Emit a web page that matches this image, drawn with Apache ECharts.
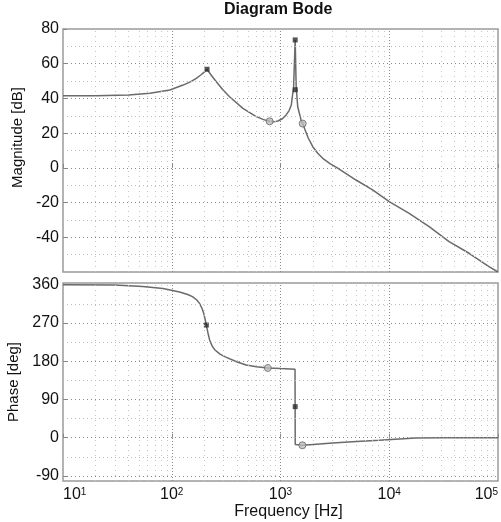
<!DOCTYPE html>
<html>
<head>
<meta charset="utf-8">
<title>Diagram Bode</title>
<script src="https://cdn.jsdelivr.net/npm/echarts@6/dist/echarts.min.js"></script>
<style>
  html, body { margin: 0; padding: 0; background: #fff; }
  #chart { width: 501px; height: 522px; }
</style>
</head>
<body>
<div id="chart"></div>
<script>
// magnitude curve (Hz, dB)
const magFreq = [10, 20, 40, 63, 96, 127, 150, 168, 185, 201, 211, 230, 257, 295, 340, 451, 598, 700, 793, 870, 945, 1040, 1127, 1200, 1257, 1320, 1365, 1393, 1440, 1546, 1600, 1680, 1800, 1980, 2200, 2445, 2850, 3357, 4945, 7030, 10000, 15250, 23280, 35500, 54200, 82600, 100000];
const magDb = [41.5, 41.6, 42, 43, 44.9, 47.7, 49.7, 51.6, 53.5, 55.4, 56.8, 53.5, 49.6, 45, 41, 34.3, 29.5, 27.8, 26.8, 26.5, 27, 28.3, 30.5, 33, 36.2, 46.8, 73.7, 46.8, 35.2, 27.6, 25.5, 22, 17.2, 12.2, 8.4, 5.5, 2.4, -0.2, -7, -12.7, -19.5, -26.2, -33.9, -42.5, -49.2, -56.9, -60];

// phase curve (Hz, deg)
const phaseFreq = [10, 30, 54, 83, 118, 140, 155, 170, 180, 190, 197, 203, 208, 215, 223, 235, 248, 280, 318, 400, 483, 600, 765, 1000, 1360, 1366, 1590, 2000, 3000, 5000, 8100, 17500, 30000, 100000];
const phaseDeg = [360, 359.5, 356, 351, 343, 337, 332, 324, 316, 304, 292, 278, 265, 247, 230, 216, 207, 196, 189, 178, 171, 167, 164, 162.5, 161, -16, -18, -16, -12.5, -9, -6.3, -1, 0, 0];

// markers on the curves
const magDotFreq = [211, 1365, 1368];
const magDotVal = [56.8, 73.7, 45];
const magRingFreq = [795, 1600];
const magRingVal = [26.8, 25.5];
const phaseDotFreq = [208, 1365];
const phaseDotVal = [265, 73];
const phaseRingFreq = [765, 1590];
const phaseRingVal = [164, -18];

// ticks and grid lines
const magTicks = [-40, -20, 0, 20, 40, 60, 80];
const magMinor = [-50, -30, -10, 10, 30, 50, 70];
const phaseTicks = [-90, 0, 90, 180, 270, 360];
const phaseMinor = [-45, 45, 135, 225, 315];
const decadeLines = [100, 1000, 10000];
const minorFreqLines = [20, 30, 40, 50, 60, 70, 80, 90, 200, 300, 400, 500, 600, 700, 800, 900,
  2000, 3000, 4000, 5000, 6000, 7000, 8000, 9000, 20000, 30000, 40000, 50000, 60000, 70000, 80000, 90000];

const font = "'Liberation Sans', Arial, sans-serif";
const pair = (xs, ys) => xs.map((x, i) => [x, ys[i]]);

const chart = echarts.init(document.getElementById('chart'));

// dotted grid as mark lines, so they sit on the log scale
const gridLines = (hMajor, hMinor) => ({
  symbol: 'none',
  silent: true,
  animation: false,
  label: {show: false},
  data: [
    ...hMajor.map(v => ({yAxis: v, lineStyle: {color: '#8a8a8a', type: [1, 3], width: 1}})),
    ...hMinor.map(v => ({yAxis: v, lineStyle: {color: '#bdbdbd', type: [1, 3], width: 1}})),
    ...decadeLines.map(v => ({xAxis: v, lineStyle: {color: '#8a8a8a', type: [1, 2], width: 1}})),
    ...minorFreqLines.map(v => ({xAxis: v, lineStyle: {color: '#c4c4c4', type: [1, 4], width: 1}}))
  ]
});

const xAxisBase = {
  type: 'log',
  logBase: 10,
  min: 10,
  max: 100000,
  axisLine: {show: false},
  axisTick: {show: true, inside: true, length: 4, lineStyle: {color: '#888'}},
  splitLine: {show: false}
};

const yAxisBase = {
  type: 'value',
  axisLine: {show: false},
  splitLine: {show: false},
  nameLocation: 'middle',
  nameGap: 36,
  nameTextStyle: {fontFamily: font, fontSize: 15, color: '#111'},
  axisLabel: {fontFamily: font, fontSize: 16, color: '#111', margin: 4}
};

chart.setOption({
  animation: false,
  title: {
    text: 'Diagram Bode',
    left: 224,
    top: 2,
    padding: 0,
    textStyle: {fontFamily: font, fontSize: 16, fontWeight: 'bold', color: '#111'}
  },
  grid: [
    {left: 63, top: 29, right: 3, height: 243, show: true, borderColor: '#9a9a9a', borderWidth: 1.5, outerBoundsMode: 'none'},
    {left: 63, top: 283, right: 3, height: 198, show: true, borderColor: '#9a9a9a', borderWidth: 1.5, outerBoundsMode: 'none'}
  ],
  xAxis: [
    Object.assign({}, xAxisBase, {gridIndex: 0, axisLabel: {show: false}}),
    Object.assign({}, xAxisBase, {
      gridIndex: 1,
      name: 'Frequency [Hz]',
      nameLocation: 'middle',
      nameGap: 18,
      nameTextStyle: {fontFamily: font, fontSize: 16, color: '#111', padding: [0, 0, 0, 16]},
      axisLabel: {
        margin: 6,
        alignMinLabel: 'left',
        alignMaxLabel: 'right',
        formatter: v => '{b|10}{s|' + Math.round(Math.log10(v)) + '}',
        rich: {
          b: {fontFamily: font, fontSize: 16, color: '#111'},
          s: {fontFamily: font, fontSize: 10, color: '#111', verticalAlign: 'top', lineHeight: 10}
        }
      }
    })
  ],
  yAxis: [
    Object.assign({}, yAxisBase, {
      gridIndex: 0,
      min: -60,
      max: 80,
      name: 'Magnitude [dB]',
      nameTextStyle: Object.assign({}, yAxisBase.nameTextStyle, {padding: [0, 0, 0, 26]}),
      axisTick: {show: true, inside: true, length: 4, lineStyle: {color: '#888'}, customValues: magTicks},
      axisLabel: Object.assign({}, yAxisBase.axisLabel, {customValues: magTicks})
    }),
    Object.assign({}, yAxisBase, {
      gridIndex: 1,
      min: -102,
      max: 364,
      name: 'Phase [deg]',
      axisTick: {show: true, inside: true, length: 4, lineStyle: {color: '#888'}, customValues: phaseTicks},
      axisLabel: Object.assign({}, yAxisBase.axisLabel, {customValues: phaseTicks})
    })
  ],
  series: [
    {
      type: 'line',
      xAxisIndex: 0,
      yAxisIndex: 0,
      data: pair(magFreq, magDb),
      showSymbol: false,
      lineStyle: {color: '#6a6a6a', width: 1.5},
      markLine: gridLines(magTicks.filter(v => v < 80), magMinor),
      z: 3
    },
    {
      type: 'line',
      xAxisIndex: 1,
      yAxisIndex: 1,
      data: pair(phaseFreq, phaseDeg),
      showSymbol: false,
      lineStyle: {color: '#6a6a6a', width: 1.5},
      markLine: gridLines(phaseTicks.filter(v => v < 360), phaseMinor),
      z: 3
    },
    {
      type: 'scatter', xAxisIndex: 0, yAxisIndex: 0, z: 4,
      data: pair(magDotFreq, magDotVal),
      symbol: 'rect', symbolSize: 5, itemStyle: {color: '#2a2a2a'}
    },
    {
      type: 'scatter', xAxisIndex: 0, yAxisIndex: 0, z: 4,
      data: pair(magRingFreq, magRingVal),
      symbol: 'circle', symbolSize: 7, itemStyle: {color: '#bbbbbb', borderColor: '#666', borderWidth: 1}
    },
    {
      type: 'scatter', xAxisIndex: 1, yAxisIndex: 1, z: 4,
      data: pair(phaseDotFreq, phaseDotVal),
      symbol: 'rect', symbolSize: 5, itemStyle: {color: '#2a2a2a'}
    },
    {
      type: 'scatter', xAxisIndex: 1, yAxisIndex: 1, z: 4,
      data: pair(phaseRingFreq, phaseRingVal),
      symbol: 'circle', symbolSize: 7, itemStyle: {color: '#bbbbbb', borderColor: '#666', borderWidth: 1}
    }
  ]
});
</script>
</body>
</html>
